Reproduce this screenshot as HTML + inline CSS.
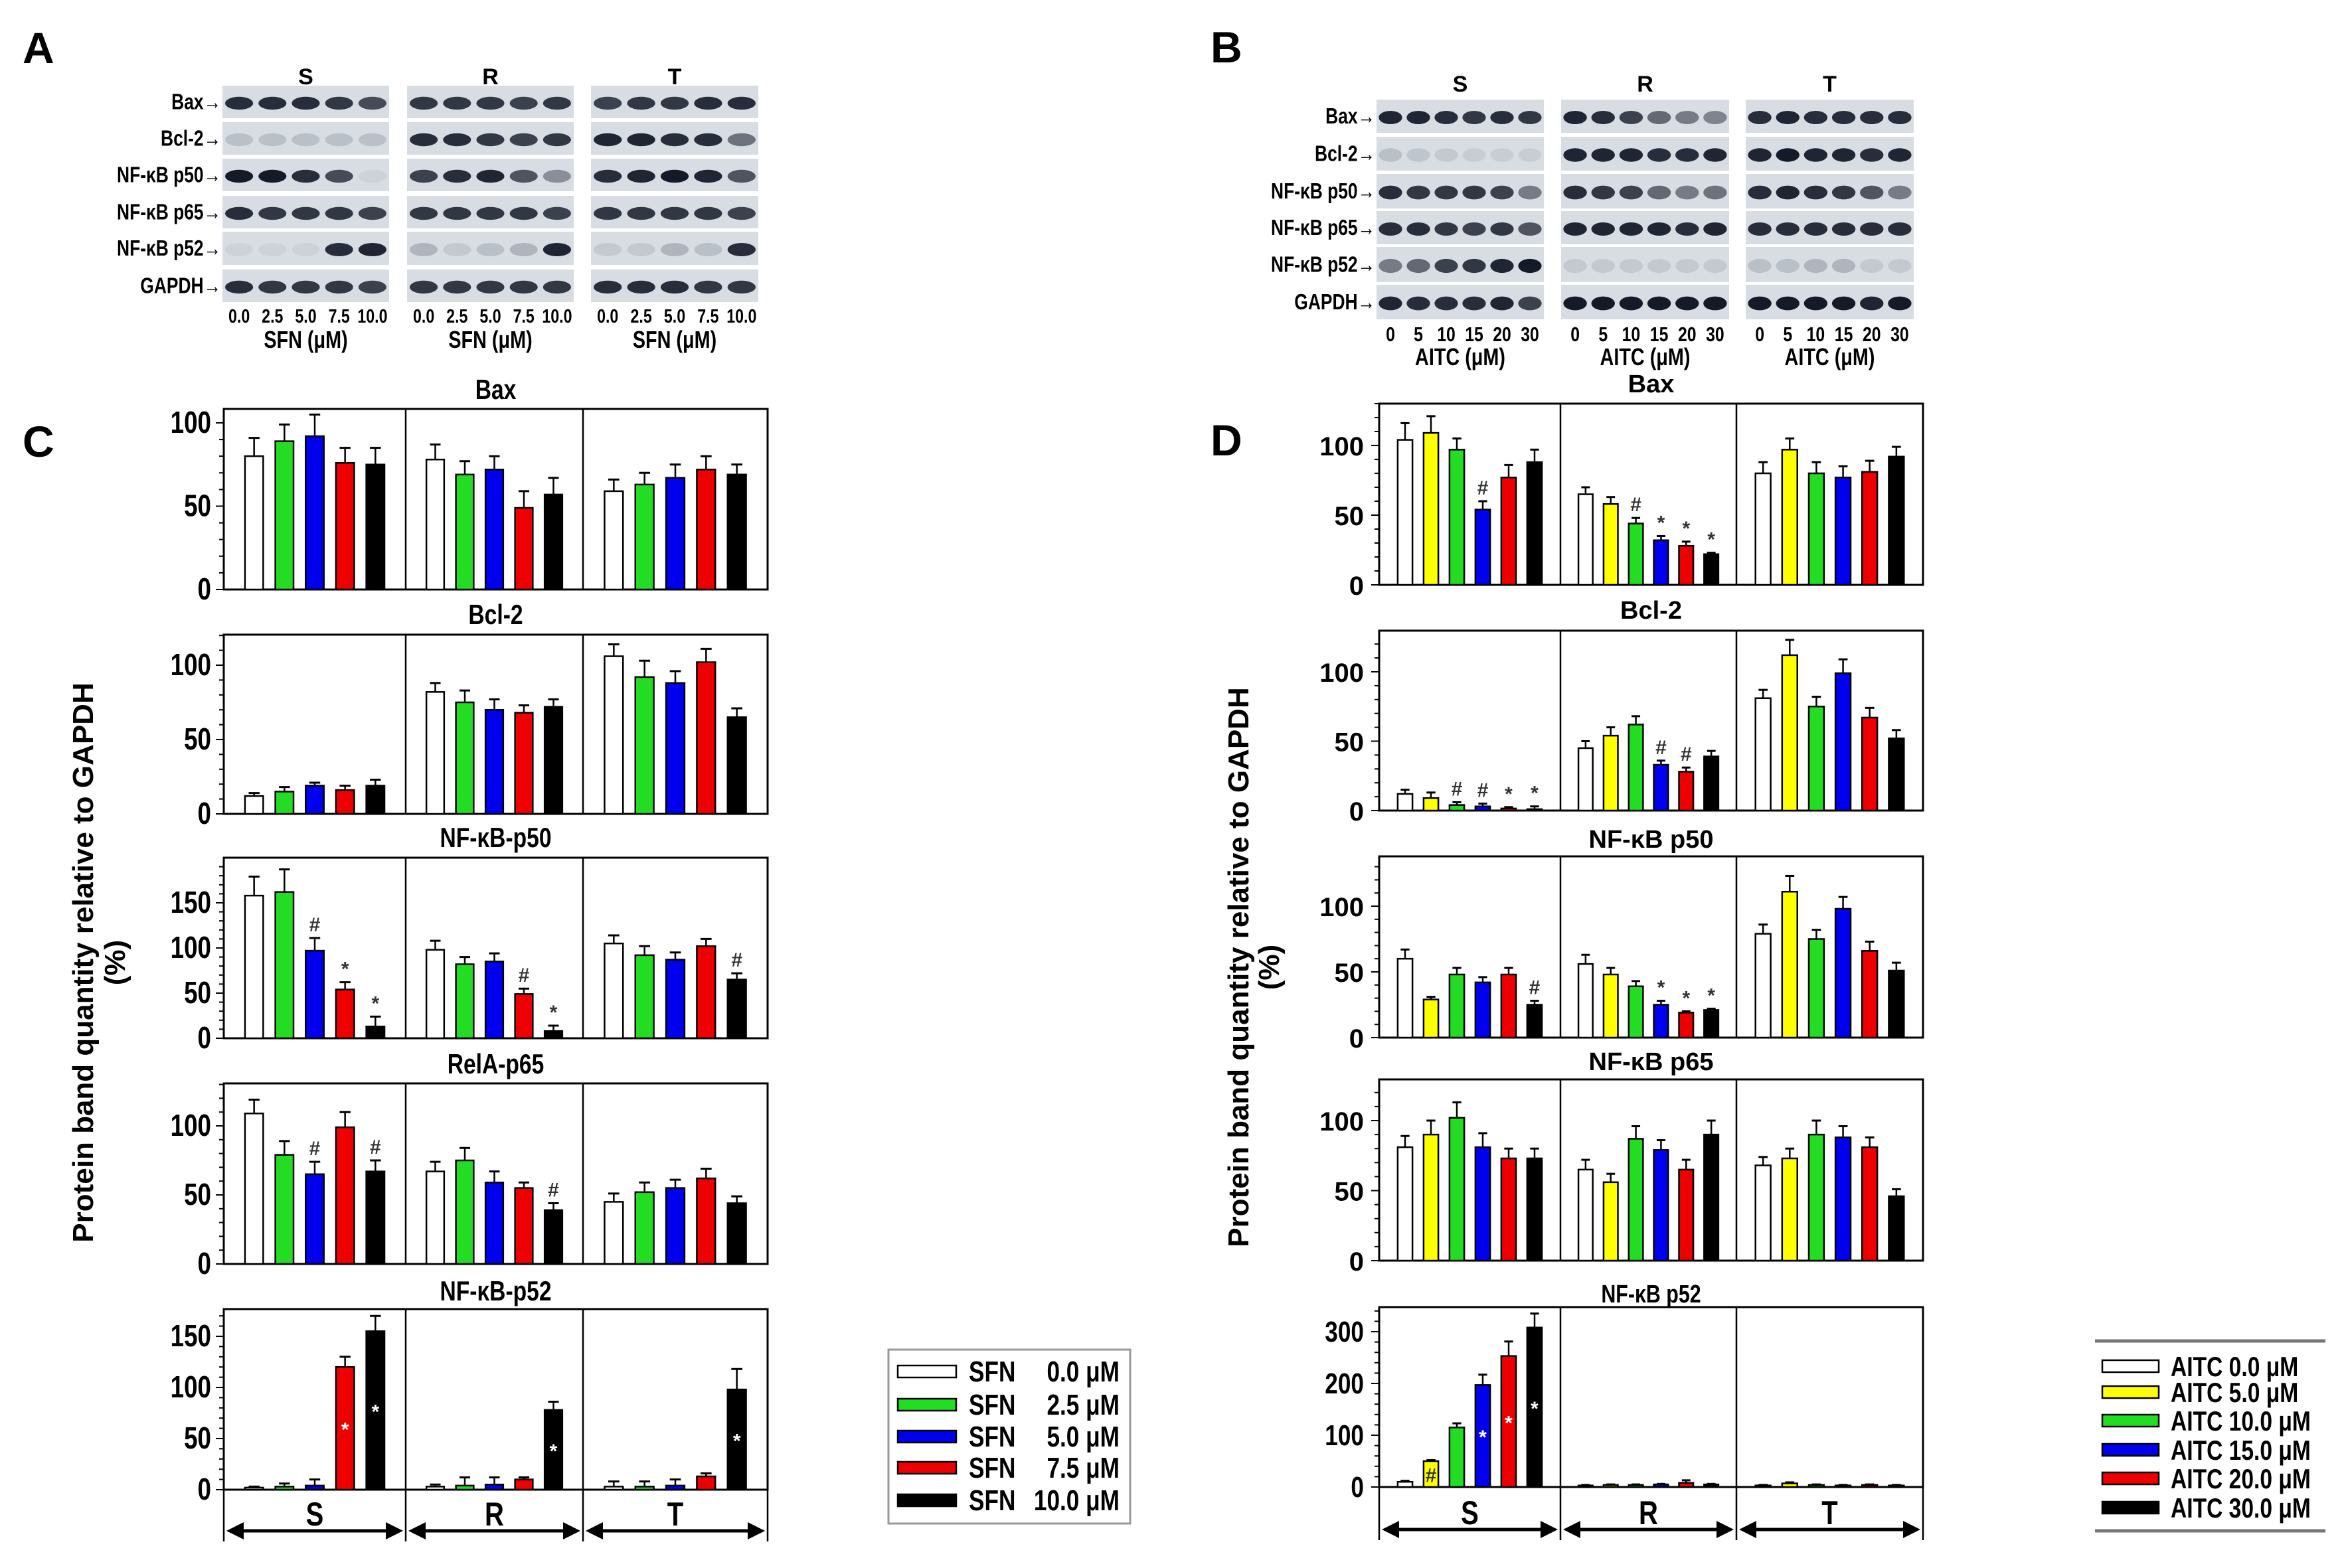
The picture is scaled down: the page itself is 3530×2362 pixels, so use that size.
<!DOCTYPE html>
<html><head><meta charset="utf-8"><title>SFN / AITC western blot figure</title>
<style>
html,body{margin:0;padding:0;background:#fff;}
svg{display:block;}
.nar{font-family:"Liberation Sans Narrow","Liberation Sans",sans-serif;font-weight:bold;}
.reg{font-family:"Liberation Sans",sans-serif;font-weight:bold;}
</style></head>
<body>
<svg id="fig" xmlns="http://www.w3.org/2000/svg" width="3530" height="2362" viewBox="0 0 3530 2362">
  <text class="reg" x="34" y="95" font-size="66">A</text>
  <text class="reg" x="1823" y="94" font-size="66">B</text>
  <text class="reg" x="34" y="688" font-size="66">C</text>
  <text class="reg" x="1823" y="686" font-size="66">D</text>
  <g id="layer"></g>
</svg>
<script>
// ===== Data: panel C (SFN) =====
const groups = ["S","R","T"];
const sfnLabels = ["SFN   0.0 μM","SFN   2.5 μM","SFN   5.0 μM","SFN   7.5 μM","SFN 10.0 μM"];
const aitcLabels = ["AITC 0.0 μM","AITC 5.0 μM","AITC 10.0 μM","AITC 15.0 μM","AITC 20.0 μM","AITC 30.0 μM"];
const sfnColors = ["#ffffff","#22dd22","#0000ee","#ee0000","#000000"];
const aitcColors = ["#ffffff","#ffff00","#22dd22","#0000ee","#ee0000","#000000"];

const cBaxVals = [80,89,92,76,75, 78,69,72,49,57, 59,63,67,72,69];
const cBaxErr  = [11,10,13,9,10, 9,8,8,10,10, 7,7,8,8,6];
const cBaxMarks= ["","","","","", "","","","","", "","","","",""];
const cBcl2Vals = [12,15,19,16,19, 82,75,70,68,72, 106,92,88,102,65];
const cBcl2Err  = [2,3,2,3,4, 6,8,7,5,5, 8,11,8,9,6];
const cBcl2Marks= ["","","","","", "","","","","", "","","","",""];
const cP50Vals = [158,162,97,54,13, 98,82,85,49,8, 105,92,87,102,65];
const cP50Err  = [21,25,14,8,11, 10,8,9,6,6, 9,10,8,8,7];
const cP50Marks= ["","","#","*","*", "","","","#","*", "","","","","#"];
const cP65Vals = [109,79,65,99,67, 67,75,59,55,39, 45,52,55,62,44];
const cP65Err  = [10,10,9,11,8, 7,9,8,4,5, 6,7,6,7,5];
const cP65Marks= ["","","#","","#", "","","","","#", "","","","",""];
const cP52Vals = [2,3,4,120,155, 3,4,5,10,78, 3,3,4,13,98];
const cP52Err  = [1,3,6,10,15, 2,8,7,2,8, 5,5,6,3,20];
const cP52Marks= ["","","","w*","w*", "","","","","w*", "","","","","w*"];

// ===== Data: panel D (AITC) =====
const dBaxVals = [104,109,97,54,77,88, 65,58,44,32,28,22, 80,97,80,77,81,92];
const dBaxErr  = [12,12,8,6,9,9, 5,5,4,3,3,1, 8,8,8,8,8,7];
const dBaxMarks= ["","","","#","","", "","","#","*","*","*", "","","","","",""];
const dBcl2Vals = [12,9,4,3,1.5,1, 45,54,62,33,28,39, 81,112,75,99,67,52];
const dBcl2Err  = [3,4,2,2,1,2, 5,6,6,3,3,4, 6,11,7,10,7,6];
const dBcl2Marks= ["","","#","#","*","*", "","","","#","#","", "","","","","",""];
const dP50Vals = [60,29,48,42,48,25, 56,48,39,25,19,21, 79,111,75,98,66,51];
const dP50Err  = [7,2,5,4,5,3, 7,5,4,3,1,1, 7,12,7,9,7,6];
const dP50Marks= ["","","","","","#", "","","","*","*","*", "","","","","",""];
const dP65Vals = [81,90,102,81,73,73, 65,56,87,79,65,90, 68,73,90,88,81,46];
const dP65Err  = [8,10,11,10,7,7, 7,6,9,7,7,10, 6,7,10,8,7,5];
const dP65Marks= ["","","","","","", "","","","","","", "","","","","",""];
const dP52Vals = [10,50,115,197,253,308, 3,4,4,5,8,5, 3,7,4,3,4,3];
const dP52Err  = [2,2,8,20,28,27, 1,1,1,1,5,1, 1,2,1,1,1,1];
const dP52Marks= ["","k#","","w*","w*","w*", "","","","","","", "","","","","",""];

const cTicks1 = [0,50,100];
const cTicksP50 = [0,50,100,150];
const dTicks1 = [0,50,100];
const dTicksP52 = [0,100,200,300];

// ===== Blot band intensities (0..1) per lane =====
const blotA = {
  S:[[.9,.9,.9,.85,.75],[.15,.15,.15,.15,.15],[1,1,.9,.75,.05],[.9,.85,.85,.85,.8],[.05,.05,.05,.9,.95],[.9,.85,.85,.85,.8]],
  R:[[.85,.85,.85,.8,.85],[.9,.9,.85,.8,.85],[.8,.9,.95,.7,.4],[.85,.85,.85,.85,.8],[.2,.1,.15,.2,.95],[.85,.85,.85,.85,.85]],
  T:[[.8,.85,.85,.9,.9],[.95,.95,.9,.9,.55],[.9,.95,1,.95,.7],[.85,.85,.85,.85,.8],[.1,.1,.2,.15,.9],[.9,.9,.9,.85,.85]]
};
const blotB = {
  S:[[.95,.95,.9,.85,.9,.85],[.15,.12,.1,.08,.08,.08],[.9,.85,.85,.85,.8,.5],[.9,.9,.85,.8,.85,.7],[.5,.6,.8,.85,.95,1],[.95,.9,.9,.9,.95,.8]],
  R:[[.95,.9,.8,.6,.5,.45],[.95,.95,.95,.9,.9,.95],[.9,.85,.8,.6,.5,.55],[.95,.95,.95,.95,.9,.95],[.1,.1,.1,.1,.1,.1],[1,1,1,1,1,1]],
  T:[[.9,.95,.9,.9,.9,.9],[.95,1,.95,.95,.9,.95],[.9,.95,.9,.85,.7,.5],[.9,.9,.9,.9,.9,.9],[.15,.15,.2,.2,.1,.1],[1,1,1,1,.95,1]]
};

const NS = "http://www.w3.org/2000/svg";
const layer = document.getElementById('layer');
function mk(tag, attrs, parent){
  const e = document.createElementNS(NS, tag);
  for (const k in attrs) e.setAttribute(k, attrs[k]);
  (parent||layer).appendChild(e);
  return e;
}
function txt(str, attrs, parent){
  if (attrs['class'] === 'nar' && !attrs.transform){
    const a = Object.assign({}, attrs);
    a.transform = `translate(${a.x},${a.y}) scale(0.8,1)`;
    a.x = 0; a.y = 0;
    attrs = a;
  }
  const e = mk('text', attrs, parent);
  e.textContent = str;
  return e;
}

// ===== Blots =====
function drawBlot(cfg, data, rowsY, rowLabels, laneLabels, unitLabel){
  const g = mk('g', {});
  
  
  groups.forEach((gr, k) => {
    const [bx0, bx1] = cfg.boxes[k];
    const lab = txt(gr, {x:(bx0+bx1)/2, y:cfg.groupY, 'font-size':34, 'text-anchor':'middle', class:'reg'}, g);
    
    
    const n = data[gr][0].length;
    const lw = (bx1-bx0)/n;
    rowsY.forEach((ry, r) => {
      const rect = mk('rect', {x:bx0, y:ry[0], width:bx1-bx0, height:ry[1]-ry[0], fill: '#d7dde3'}, g);
      
      
      for (let i=0;i<n;i++){
        const v = data[gr][r][i];
        const cy = (ry[0]+ry[1])/2 + 2;
        const band = mk('ellipse', {cx: bx0+lw*(i+0.5), cy: cy, rx: lw*0.42, ry: (ry[1]-ry[0])*0.2, fill:'#151a28', 'fill-opacity': v}, g);
        
        
      }
    });
    laneLabels.forEach((ll, i) => {
      const t = txt(ll, {x: bx0+lw*(i+0.5), y: cfg.laneY, 'font-size': cfg.laneFs, 'text-anchor':'middle', class:'nar'}, g);
      
      
    });
    const u = txt(unitLabel, {x:(bx0+bx1)/2, y:cfg.unitY, 'font-size':36, 'text-anchor':'middle', class:'nar'}, g);
    
    
  });
  rowsY.forEach((ry, r) => {
    const t = txt(rowLabels[r] + "→", {x: cfg.boxes[0][0]-2, y:(ry[0]+ry[1])/2+11, 'font-size':33, 'text-anchor':'end', class:'nar'}, g);
    
    
  });
}
drawBlot({name:'blot-panel-a', boxes:[[335,586],[613,864],[890,1142]], groupY:127, laneY:486, laneFs:29, unitY:524},
  blotA, [[129,178],[184,233],[239,288],[295,344],[349,399],[406,455]],
  ["Bax","Bcl-2","NF-κB p50","NF-κB p65","NF-κB p52","GAPDH"], ["0.0","2.5","5.0","7.5","10.0"], "SFN (μM)");
drawBlot({name:'blot-panel-b', boxes:[[2073,2325],[2351,2604],[2629,2882]], groupY:138, laneY:514, laneFs:31, unitY:550},
  blotB, [[150,200],[206,257],[262,314],[318,368],[372,425],[429,481]],
  ["Bax","Bcl-2","NF-κB p50","NF-κB p65","NF-κB p52","GAPDH"], ["0","5","10","15","20","30"], "AITC (μM)");

// ===== Bar plots =====
function drawPlot(p){
  const g = mk('g', {});
  
  
  const edges = [p.x0, p.divs[0], p.divs[1], p.x1];
  const yOf = v => p.zero - v * p.ppu;
  const ymaxVal = (p.zero - p.top)/p.ppu;
  const t = txt(p.title, {x:(p.x0+p.x1)/2, y:p.titleY, 'font-size':p.titleFs, 'text-anchor':'middle', class:p.cls}, g);
  
  
  const fr = mk('rect', {x:p.x0, y:p.top, width:p.x1-p.x0, height:p.zero-p.top, fill:'none', stroke:'#000', 'stroke-width':3}, g);
  
  
  p.divs.forEach(dx => {
    const l = mk('line', {x1:dx, x2:dx, y1:p.top, y2:p.zero, stroke:'#000', 'stroke-width':2.5}, g);
    
    
  });
  for (let v=0; v<=ymaxVal; v+=p.minor){
    const isMaj = p.ticks.indexOf(v) >= 0;
    const tk = mk('line', {x1:p.x0-(isMaj?12:7), x2:p.x0, y1:yOf(v), y2:yOf(v), stroke:'#000', 'stroke-width':2}, g);
    
    
  }
  p.ticks.forEach(v => {
    const tl = txt(String(v), {x:p.tickX, y:yOf(v)+15, 'font-size':p.tickFs, 'text-anchor':'end', class:p.cls}, g);
    
    
  });
  const n = p.colors.length;
  for (let k=0;k<3;k++){
    const slot = (edges[k+1]-edges[k])/(n+1);
    const bw = slot*p.bwf;
    for (let i=0;i<n;i++){
      const idx = k*n+i;
      const v = p.vals[idx], e = p.errs[idx], m = p.marks[idx];
      const cx = edges[k] + (i+1)*slot;
      const yt = yOf(v);
      const ye = yOf(v+e);
      const el = mk('line', {x1:cx, x2:cx, y1:yt, y2:ye, stroke:'#000', 'stroke-width':2.5}, g);
      
      
      const ec = mk('line', {x1:cx-bw*0.3, x2:cx+bw*0.3, y1:ye, y2:ye, stroke:'#000', 'stroke-width':3}, g);
      
      
      const bar = mk('rect', {x:cx-bw/2, y:yt, width:bw, height:p.zero-yt, fill:p.colors[i], stroke:'#000', 'stroke-width':2.5}, g);
      
      
      if (m){
        let mt;
        if (m[0]==='w' || m[0]==='k'){
          mt = txt(m.slice(1), {x:cx, y:(yt+p.zero)/2+12, 'font-size':30, 'text-anchor':'middle', fill: m[0]==='w'?'#fff':'#333', class:'reg'}, g);
        } else {
          mt = txt(m, {x:cx, y:ye-10, 'font-size':30, 'text-anchor':'middle', fill:'#333', class:'reg'}, g);
        }
        
        
      }
    }
  }
  if (p.arrowY){
    edges.forEach(ex => {
      const l = mk('line', {x1:ex, x2:ex, y1:p.zero, y2:p.arrowY+16, stroke:'#000', 'stroke-width':2.5}, g);
      
      
    });
    for (let k=0;k<3;k++){
      const a0 = edges[k]+4, a1 = edges[k+1]-4, ay = p.arrowY;
      const ar = mk('path', {d:`M${a0+22},${ay} L${a1-22},${ay}`, stroke:'#000', 'stroke-width':5, fill:'none'}, g);
      
      
      const h1 = mk('path', {d:`M${a0},${ay} L${a0+26},${ay-13} L${a0+26},${ay+13} Z`, fill:'#000'}, g);
      
      
      const h2 = mk('path', {d:`M${a1},${ay} L${a1-26},${ay-13} L${a1-26},${ay+13} Z`, fill:'#000'}, g);
      
      
      const gl = txt(groups[k], {x:(edges[k]+edges[k+1])/2, y:p.glY, 'font-size':50, 'text-anchor':'middle', class:p.cls}, g);
      
      
    }
  }
}
const C = {x0:337, x1:1156, divs:[611,878], colors:sfnColors, bwf:0.6, tickX:318, tickFs:46, titleFs:42, cls:'nar', minor:10};
drawPlot(Object.assign({}, C, {name:'plot-c-bax', title:'Bax', titleY:601, top:616, zero:888, ppu:2.51, ticks:cTicks1, vals:cBaxVals, errs:cBaxErr, marks:cBaxMarks}));
drawPlot(Object.assign({}, C, {name:'plot-c-bcl2', title:'Bcl-2', titleY:940, top:956, zero:1226, ppu:2.24, ticks:cTicks1, vals:cBcl2Vals, errs:cBcl2Err, marks:cBcl2Marks}));
drawPlot(Object.assign({}, C, {name:'plot-c-p50', title:'NF-κB-p50', titleY:1276, top:1292, zero:1564, ppu:1.36, ticks:cTicksP50, vals:cP50Vals, errs:cP50Err, marks:cP50Marks}));
drawPlot(Object.assign({}, C, {name:'plot-c-p65', title:'RelA-p65', titleY:1617, top:1632, zero:1904, ppu:2.08, ticks:cTicks1, vals:cP65Vals, errs:cP65Err, marks:cP65Marks}));
drawPlot(Object.assign({}, C, {name:'plot-c-p52', title:'NF-κB-p52', titleY:1959, top:1972, zero:2244, ppu:1.54, ticks:cTicksP50, vals:cP52Vals, errs:cP52Err, marks:cP52Marks, arrowY:2306, glY:2298}));

const D = {x0:2077, x1:2896, divs:[2350,2615], colors:aitcColors, bwf:0.57, tickX:2054, tickFs:40, titleFs:38, cls:'reg', minor:10};
drawPlot(Object.assign({}, D, {name:'plot-d-bax', title:'Bax', titleY:591, top:608, zero:881, ppu:2.1, ticks:dTicks1, vals:dBaxVals, errs:dBaxErr, marks:dBaxMarks}));
drawPlot(Object.assign({}, D, {name:'plot-d-bcl2', title:'Bcl-2', titleY:932, top:950, zero:1221, ppu:2.09, ticks:dTicks1, vals:dBcl2Vals, errs:dBcl2Err, marks:dBcl2Marks}));
drawPlot(Object.assign({}, D, {name:'plot-d-p50', title:'NF-κB p50', titleY:1277, top:1290, zero:1563, ppu:1.98, ticks:dTicks1, vals:dP50Vals, errs:dP50Err, marks:dP50Marks}));
drawPlot(Object.assign({}, D, {name:'plot-d-p65', title:'NF-κB p65', titleY:1612, top:1626, zero:1899, ppu:2.11, ticks:dTicks1, vals:dP65Vals, errs:dP65Err, marks:dP65Marks}));
drawPlot(Object.assign({}, D, {name:'plot-d-p52', title:'NF-κB p52', titleY:1962, top:1969, zero:2240, ppu:0.78, ticks:dTicksP52, minor:20, tickFs:44, cls:'nar', vals:dP52Vals, errs:dP52Err, marks:dP52Marks, arrowY:2304, glY:2296}));

// ===== Y-axis titles =====
function yTitle(x1, x2, cy, name){
  const g = mk('g', {});
  
  
  txt('Protein band quantity relative to GAPDH', {x:0, y:0, 'font-size':44, 'text-anchor':'middle', class:'reg', transform:`translate(${x1},${cy}) rotate(-90)`}, g);
  txt('(%)', {x:0, y:0, 'font-size':44, 'text-anchor':'middle', class:'reg', transform:`translate(${x2},${cy}) rotate(-90)`}, g);
}
yTitle(140, 188, 1450, 'y-axis-title-c');
yTitle(1880, 1926, 1457, 'y-axis-title-d');

// ===== Legends =====
function legend(name, box, rowsY, swX, swW, txX, labels, colors, fs, frame, rightAlign){
  const g = mk('g', {});
  
  
  if (frame === 'box'){
    mk('rect', {x:box[0], y:box[1], width:box[2]-box[0], height:box[3]-box[1], fill:'#fff', stroke:'#999', 'stroke-width':3}, g);
  } else {
    mk('line', {x1:box[0], x2:box[2], y1:box[1], y2:box[1], stroke:'#777', 'stroke-width':5}, g);
    mk('line', {x1:box[0], x2:box[2], y1:box[3], y2:box[3], stroke:'#777', 'stroke-width':5}, g);
  }
  labels.forEach((lab, i) => {
    const sw = mk('rect', {x:swX, y:rowsY[i]-9, width:swW, height:18, fill:colors[i], stroke:'#000', 'stroke-width':2.5}, g);
    
    
    let t;
    if (rightAlign){
      const parts = lab.split(/ (?=\S+ μM$)/);
      t = txt(parts[0].trim(), {x:txX, y:rowsY[i]+15, 'font-size':fs, class:'nar'}, g);
      const t2 = txt(parts[1], {x:box[2]-16, y:rowsY[i]+15, 'font-size':fs, 'text-anchor':'end', class:'nar'}, g);
      
      
    } else {
      t = txt(lab, {x:txX, y:rowsY[i]+15, 'font-size':fs, class:'nar'}, g);
    }
    
    
  });
}
legend('legend-sfn', [1338,2033,1702,2295], [2066,2116,2164,2211,2260], 1352, 88, 1459, sfnLabels, sfnColors, 44, 'box', true);
legend('legend-aitc', [3155,2020,3502,2306], [2058,2097,2140,2184,2227,2271], 3166, 85, 3269, aitcLabels, aitcColors, 42, 'lines', false);
</script>
</body></html>
